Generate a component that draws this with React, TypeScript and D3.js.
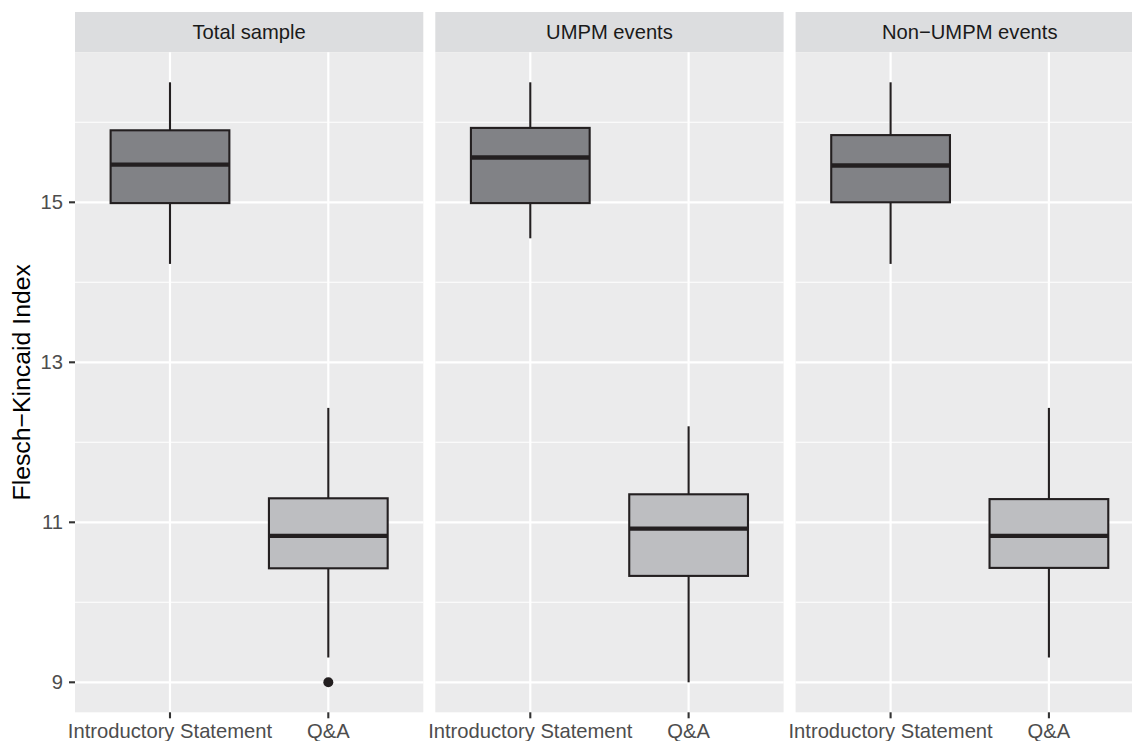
import React from "react";
import * as d3 from "d3";

const facets = ["Total sample", "UMPM events", "Non\u2212UMPM events"];
const categories = ["Introductory Statement", "Q&A"];

// per facet: [Introductory Statement, Q&A]
const introLow = [14.23, 14.55, 14.23];
const introQ1 = [14.99, 14.99, 15.0];
const introMed = [15.47, 15.56, 15.46];
const introQ3 = [15.9, 15.93, 15.84];
const introHigh = [16.5, 16.5, 16.5];

const qaLow = [9.31, 9.0, 9.31];
const qaQ1 = [10.425, 10.33, 10.43];
const qaMed = [10.83, 10.92, 10.83];
const qaQ3 = [11.3, 11.35, 11.29];
const qaHigh = [12.43, 12.2, 12.43];

const qaOutliers = [[9.0], [], []];

const yMajor = [9, 11, 13, 15];
const yMinor = [10, 12, 14, 16];

const W = 1132;
const H = 741;
const panelLeft = 75;
const panelW = 348.3;
const panelGap = 12;
const stripTop = 12;
const panelTop = 52.3;
const panelBottom = 712.3;

const fills = ["#818286", "#bdbec1"];
const lineCol = "#231f20";
const font = "'Liberation Sans', Arial, Helvetica, sans-serif";
const textSize = 20.2;

export default function App() {
  const dataMin = 9.0;
  const dataMax = 16.5;
  const pad = (dataMax - dataMin) * 0.05;
  const y = d3
    .scaleLinear()
    .domain([dataMin - pad, dataMax + pad])
    .range([panelBottom, panelTop]);

  const px = d3
    .scaleBand<string>()
    .domain(facets)
    .range([panelLeft, panelLeft + 3 * panelW + 2 * panelGap])
    .paddingInner(panelGap / (panelW + panelGap));

  const x = d3
    .scalePoint<string>()
    .domain(categories)
    .range([0, panelW])
    .padding(0.6);
  const step = x.step();
  const boxW = step * 0.75;

  const stats = facets.map((f, i) => [
    { low: introLow[i], q1: introQ1[i], med: introMed[i], q3: introQ3[i], high: introHigh[i], out: [] as number[] },
    { low: qaLow[i], q1: qaQ1[i], med: qaMed[i], q3: qaQ3[i], high: qaHigh[i], out: qaOutliers[i] },
  ]);

  return (
    <svg
      width={W}
      height={H}
      style={{ position: "absolute", left: 0, top: 0, display: "block" }}
      fontFamily={font}
    >
      <rect x={0} y={0} width={W} height={H} fill="#ffffff" />
      {facets.map((f, i) => {
        const x0 = px(f)!;
        return (
          <g key={f}>
            {/* strip */}
            <rect x={x0} y={stripTop} width={panelW} height={panelTop - stripTop} fill="#dcdddf" />
            <text
              x={x0 + panelW / 2}
              y={(stripTop + panelTop) / 2}
              textAnchor="middle"
              dominantBaseline="central"
              fontSize={textSize}
              fill="#1a1a1a"
            >
              {f}
            </text>
            {/* panel */}
            <rect x={x0} y={panelTop} width={panelW} height={panelBottom - panelTop} fill="#ebebec" />
            {yMinor.map((v) => (
              <line key={"mn" + v} x1={x0} x2={x0 + panelW} y1={y(v)} y2={y(v)} stroke="#fff" strokeWidth={1.1} />
            ))}
            {yMajor.map((v) => (
              <line key={"mj" + v} x1={x0} x2={x0 + panelW} y1={y(v)} y2={y(v)} stroke="#fff" strokeWidth={2.2} />
            ))}
            {categories.map((c) => (
              <line key={"vx" + c} x1={x0 + x(c)!} x2={x0 + x(c)!} y1={panelTop} y2={panelBottom} stroke="#fff" strokeWidth={2.2} />
            ))}
            {/* boxes */}
            {categories.map((c, j) => {
              const s = stats[i][j];
              const cx = x0 + x(c)!;
              return (
                <g key={"b" + c}>
                  <line x1={cx} x2={cx} y1={y(s.high)} y2={y(s.q3)} stroke={lineCol} strokeWidth={2.1} />
                  <line x1={cx} x2={cx} y1={y(s.q1)} y2={y(s.low)} stroke={lineCol} strokeWidth={2.1} />
                  <rect
                    x={cx - boxW / 2}
                    y={y(s.q3)}
                    width={boxW}
                    height={y(s.q1) - y(s.q3)}
                    fill={fills[j]}
                    stroke={lineCol}
                    strokeWidth={2.1}
                  />
                  <line x1={cx - boxW / 2} x2={cx + boxW / 2} y1={y(s.med)} y2={y(s.med)} stroke={lineCol} strokeWidth={4.3} />
                  {s.out.map((o, k) => (
                    <circle key={k} cx={cx} cy={y(o)} r={5} fill={lineCol} />
                  ))}
                </g>
              );
            })}
            {/* x ticks */}
            {categories.map((c) => (
              <g key={"xt" + c}>
                <line x1={x0 + x(c)!} x2={x0 + x(c)!} y1={panelBottom} y2={panelBottom + 6} stroke="#333" strokeWidth={2.1} />
                <text x={x0 + x(c)!} y={738} textAnchor="middle" fontSize={textSize} fill="#4d4d4d">
                  {c}
                </text>
              </g>
            ))}
          </g>
        );
      })}
      {/* y axis */}
      {yMajor.map((v) => (
        <g key={"yt" + v}>
          <line x1={panelLeft - 6} x2={panelLeft} y1={y(v)} y2={y(v)} stroke="#333" strokeWidth={2.1} />
          <text x={panelLeft - 12} y={y(v)} textAnchor="end" dominantBaseline="central" fontSize={textSize} fill="#4d4d4d">
            {v}
          </text>
        </g>
      ))}
      <text
        transform={`translate(30, ${(panelTop + panelBottom) / 2}) rotate(-90)`}
        textAnchor="middle"
        fontSize={24.8}
        fill="#000"
      >
        Flesch{"\u2212"}Kincaid Index
      </text>
    </svg>
  );
}
